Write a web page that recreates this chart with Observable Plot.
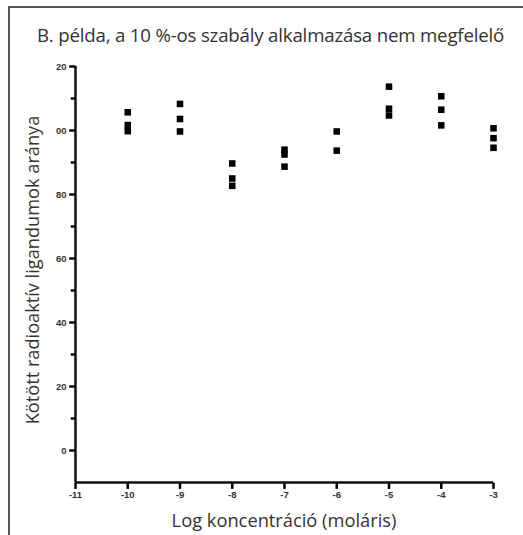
<!DOCTYPE html>
<html>
<head>
<meta charset="utf-8">
<script src="https://cdn.jsdelivr.net/npm/d3@7"></script>
<script src="https://cdn.jsdelivr.net/npm/@observablehq/plot@0.6"></script>
<style>
  html, body { margin: 0; padding: 0; background: #fff; }
  #wrap { position: relative; width: 523px; height: 535px; overflow: hidden; background: #fff; }
  #frameTop { position: absolute; left: 8px; top: 6px; width: 515px; height: 2px; background: #555; }
  #frameLeft { position: absolute; left: 8px; top: 6px; width: 2px; height: 529px; background: #555; }
  #title { position: absolute; left: 37px; top: 22px; font-family: "Open Sans", sans-serif; font-size: 18.7px; color: #333; white-space: nowrap; letter-spacing: -0.2px; }
  #ylabel { position: absolute; left: 32px; top: 270px; transform: translate(-50%, -50%) rotate(-90deg); font-family: "Open Sans", sans-serif; font-size: 18.2px; color: #333; white-space: nowrap; }
  #xlabel { position: absolute; left: 284px; top: 519px; transform: translate(-50%, -50%); font-family: "Open Sans", sans-serif; font-size: 18.3px; color: #333; white-space: nowrap; }
  #chart { position: absolute; left: 0; top: 0; }
</style>
</head>
<body>
<div id="wrap">
  <div id="frameTop"></div>
  <div id="frameLeft"></div>
  <div id="title">B. példa, a 10 %-os szabály alkalmazása nem megfelelő</div>
  <div id="ylabel">Kötött radioaktív ligandumok aránya</div>
  <div id="xlabel">Log koncentráció (moláris)</div>
  <div id="chart"></div>
</div>
<script>
// Data (replicates per concentration)
const logConc = [-10, -10, -10, -9, -9, -9, -8, -8, -8, -7, -7, -7, -6, -6, -5, -5, -5, -4, -4, -4, -3, -3, -3];
const bound   = [105.7, 101.7, 99.8, 108.3, 103.6, 99.7, 89.7, 85.0, 82.7, 94.0, 92.5, 88.7, 99.7, 93.7, 113.7, 106.8, 104.7, 110.7, 106.5, 101.6, 100.7, 97.6, 94.6];

const xTicks = [-11, -10, -9, -8, -7, -6, -5, -4, -3];
const yTicks = [0, 20, 40, 60, 80, 100, 120];
const yTickLabels = ["0", "20", "40", "60", "80", "00", "20"];
const yMinorTicks = [10, 30, 50, 70, 90, 110];

const data = logConc.map((x, i) => ({x, y: bound[i]}));
const labelOf = new Map(yTicks.map((t, i) => [t, yTickLabels[i]]));

const chart = Plot.plot({
  width: 523,
  height: 535,
  marginLeft: 75,
  marginRight: 30,
  marginTop: 66,
  marginBottom: 53,
  style: {background: "transparent", fontFamily: "Liberation Sans, Arial, sans-serif", color: "#111"},
  x: {domain: [-11, -3]},
  y: {domain: [-10, 120]},
  marks: [
    // tick marks drawn outward from the axis lines
    Plot.link(xTicks, {x1: d => d, x2: d => d, y1: -10, y2: -12, stroke: "#000", strokeWidth: 2.5}),
    Plot.link(yTicks, {y1: d => d, y2: d => d, x1: -11, x2: -11.12, stroke: "#000", strokeWidth: 2.5}),
    Plot.link(yMinorTicks, {y1: d => d, y2: d => d, x1: -11, x2: -11.09, stroke: "#000", strokeWidth: 2.5}),
    // tick labels
    Plot.axisX({ticks: xTicks, tickSize: 0, tickPadding: 9, tickFormat: d => d, label: null,
      fontSize: 9.5, fontWeight: "bold", fill: "#333"}),
    Plot.axisY({ticks: yTicks, tickSize: 0, tickPadding: 9, tickFormat: d => labelOf.get(d), label: null,
      fontSize: 9.5, fontWeight: "bold", fill: "#333"}),
    // axis lines
    Plot.ruleX([-11], {y1: -10, y2: 120, stroke: "#111", strokeWidth: 2.5}),
    Plot.ruleY([-10], {x1: -11, x2: -3, stroke: "#111", strokeWidth: 2.5}),
    Plot.dot(data, {x: "x", y: "y", symbol: "square", r: 3.7, fill: "#000", stroke: "none"})
  ]
});
document.getElementById("chart").appendChild(chart);
</script>
</body>
</html>
